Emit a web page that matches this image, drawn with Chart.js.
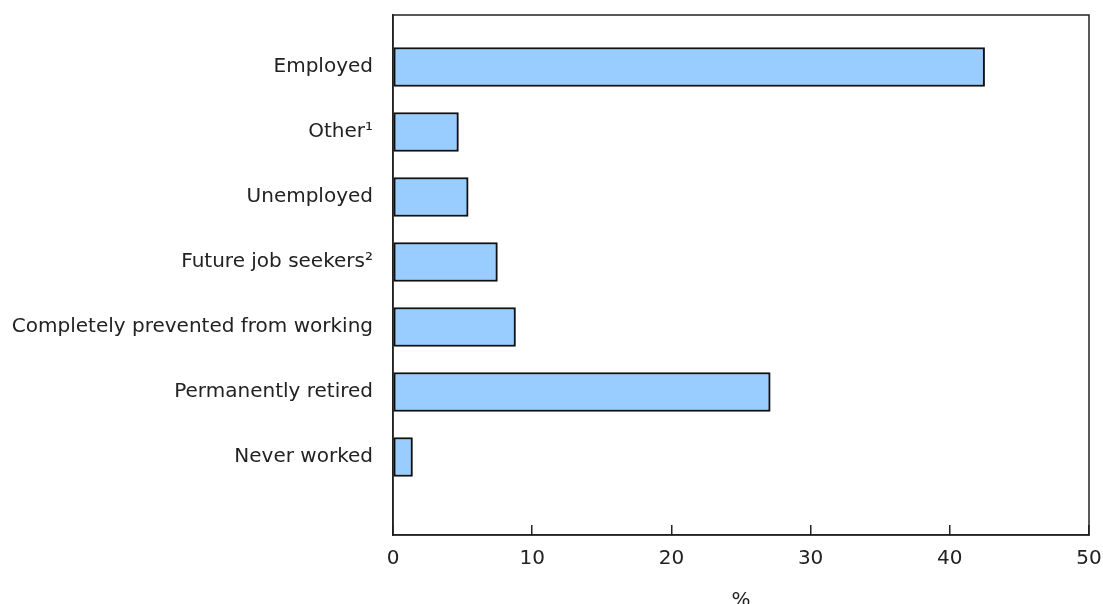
<!DOCTYPE html>
<html>
<head>
<meta charset="utf-8">
<script src="https://cdn.jsdelivr.net/npm/chart.js@4"></script>
<style>
  html, body { margin: 0; padding: 0; background: #fff; }
  #wrap { width: 1103px; height: 604px; }
</style>
</head>
<body>
<div id="wrap"><canvas id="myChart" width="1103" height="604"></canvas></div>
<script>
// data
var categories = ['Employed', 'Other\u00b9', 'Unemployed', 'Future job seekers\u00b2',
                  'Completely prevented from working', 'Permanently retired', 'Never worked'];
var percents = [42.5, 4.7, 5.4, 7.5, 8.8, 27.1, 1.4];
var xTicks = [0, 10, 20, 30, 40, 50];

var FONT = '"DejaVu Sans", Verdana, sans-serif';

// bars sit on a numeric index axis so the empty slot below the last bar can be kept
var points = percents.map(function (v, i) { return { x: v, y: i }; });

// box around the plot area
var boxPlugin = {
    id: 'box',
    afterDraw: function (chart) {
        var a = chart.chartArea, c = chart.ctx;
        c.save();
        c.strokeStyle = '#222';
        c.lineWidth = 1.5;
        c.strokeRect(a.left, a.top, a.right - a.left, a.bottom - a.top);
        c.restore();
    }
};

// no extra room for overhanging tick labels
function noPad(scale) {
    scale.paddingTop = 0;
    scale.paddingBottom = 0;
    scale.paddingLeft = 0;
    scale.paddingRight = 0;
}

var ctx = document.getElementById('myChart').getContext('2d');
var chart = new Chart(ctx, {
    type: 'bar',
    data: {
        datasets: [{
            data: points,
            backgroundColor: '#99ccff',
            borderColor: '#111',
            borderWidth: 2,
            borderSkipped: false,
            barThickness: 39
        }]
    },
    options: {
        indexAxis: 'y',
        responsive: false,
        animation: false,
        layout: { padding: { top: 15, right: 14, left: 0, bottom: 0 } },
        plugins: {
            legend: { display: false },
            tooltip: { enabled: false }
        },
        scales: {
            y: {
                type: 'linear',
                reverse: true,
                offset: false,
                min: -0.8,
                max: 7.2,
                afterBuildTicks: function (scale) {
                    scale.ticks = categories.map(function (c, i) { return { value: i }; });
                },
                afterFit: function (scale) { scale.width = 393; noPad(scale); },
                ticks: {
                    callback: function (v) { return categories[v]; },
                    color: '#222',
                    font: { family: FONT, size: 20 },
                    padding: 20,
                    autoSkip: false
                },
                grid: { display: false, drawTicks: false, offset: false },
                border: { display: true, color: '#222', width: 1.5 }
            },
            x: {
                type: 'linear',
                min: 0,
                max: 50,
                afterBuildTicks: function (scale) {
                    scale.ticks = xTicks.map(function (v) { return { value: v }; });
                },
                afterFit: function (scale) { scale.height = 69; noPad(scale); },
                ticks: {
                    color: '#222',
                    font: { family: FONT, size: 20 },
                    padding: 22
                },
                grid: { drawOnChartArea: false, drawTicks: true, tickLength: -10, color: '#222', lineWidth: 1.5 },
                border: { display: true, color: '#222', width: 1.5 },
                title: {
                    display: true,
                    text: '%',
                    color: '#222',
                    font: { family: FONT, size: 20 },
                    padding: { top: 0, bottom: -9 }
                }
            }
        }
    },
    plugins: [boxPlugin]
});
</script>
</body>
</html>
